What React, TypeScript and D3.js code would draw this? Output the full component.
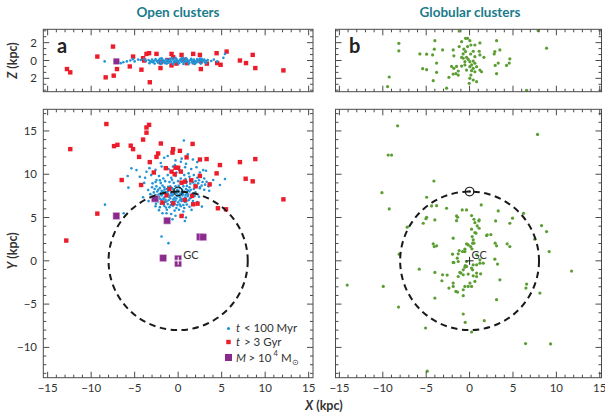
import React from 'react';
import * as d3 from 'd3';

// ---- data (kpc) ----
const youngXY: [number, number][] = [
  [-1.2, 12.1], [0.4, 11.8], [1.1, 12.3], [-0.3, 11.6], [2.2, 11.4], [-2.0, 11.3], [0.9, 11.2], [-1.6, 11.9], [0.66, 13.9], [-0.38, 11.06], [0.31, 11.44], [1.7, 11.7],
  [-3.3, 10.7], [-2.6, 10.5], [-1.9, 10.9], [-1.1, 10.6], [-0.6, 10.9], [0.1, 10.5], [0.8, 10.8], [1.5, 10.6], [2.11, 10.8], [2.88, 10.48], [-4.79, 10.48], [-5.37, 10.68], [-3.64, 10.29], [2.5, 10.2], [3.2, 10.4], [-0.2, 10.2], [1.2, 10.1],
  [-5.8, 9.8], [-4.41, 9.71], [-3.8, 9.6], [-3.1, 9.9], [-2.49, 9.33], [-2.2, 9.8], [-1.7, 9.5], [-1.2, 9.9], [-0.8, 9.6], [-0.3, 9.8], [0.3, 9.5], [0.7, 9.9], [1.3, 9.7], [1.8, 9.9], [2.2, 9.6], [2.6, 9.8], [3.0, 9.5], [3.27, 9.14], [4.03, 9.33], [5.38, 9.45], [1.6, 9.4], [2.0, 9.2], [2.4, 9.3], [2.8, 9.1],
  [-3.9, 9.0], [-2.95, 8.95], [-2.6, 9.1], [-2.0, 9.0], [-1.5, 9.2], [-1.0, 9.1], [-0.5, 9.0], [0.0, 9.2], [0.5, 9.0], [1.0, 9.1], [1.4, 8.9], [1.9, 8.8], [2.3, 8.95], [2.7, 8.7], [3.1, 8.8], [3.5, 8.6], [4.8, 8.76], [1.7, 9.05], [2.1, 8.6], [2.5, 8.5], [-1.8, 8.7], [-0.9, 8.6],
  [-5.72, 8.45], [-3.45, 8.18], [-3.0, 8.5], [-2.5, 8.6], [-2.1, 8.4], [-1.6, 8.5], [-1.3, 8.3], [-0.7, 8.4], [-0.3, 8.6], [0.2, 8.4], [0.6, 8.6], [0.9, 8.3], [1.3, 8.5], [1.8, 8.3], [2.5, 8.37], [3.0, 8.2], [3.57, 8.1], [-2.3, 8.2], [-0.1, 8.2], [1.1, 8.15],
  [-2.8, 7.9], [-2.4, 8.0], [-2.0, 7.8], [-1.7, 8.0], [-1.4, 7.9], [-1.1, 8.1], [-0.8, 7.8], [-0.5, 8.0], [-0.2, 7.8], [0.1, 8.0], [0.4, 7.9], [0.7, 8.0], [1.0, 7.8], [1.3, 8.0], [1.6, 7.7], [2.0, 7.9], [-1.9, 8.1], [-1.2, 7.7], [-0.6, 7.65], [0.25, 7.7], [0.85, 7.6], [-3.2, 7.7],
  [-4.03, 7.34], [-3.0, 7.5], [-2.6, 7.6], [-2.2, 7.4], [-1.9, 7.55], [-1.6, 7.3], [-1.3, 7.5], [-1.0, 7.35], [-0.7, 7.55], [-0.4, 7.3], [-0.1, 7.5], [0.2, 7.35], [0.5, 7.55], [0.8, 7.3], [1.1, 7.45], [1.5, 7.3], [1.9, 7.5], [2.4, 7.4], [-2.4, 7.2], [-0.55, 7.1], [0.35, 7.15], [-1.45, 7.05],
  [-3.4, 6.9], [-2.8, 7.0], [-2.3, 6.85], [-1.9, 7.0], [-1.5, 6.8], [-1.1, 7.0], [-0.8, 6.8], [-0.3, 6.95], [0.0, 6.75], [0.4, 6.9], [0.8, 6.8], [1.2, 7.0], [1.7, 6.9], [2.2, 6.8], [-2.0, 6.6], [-1.2, 6.55], [-0.5, 6.6], [0.2, 6.5], [1.0, 6.5],
  [-8.41, 6.49], [-2.6, 6.3], [-2.1, 6.2], [-1.6, 6.35], [-1.0, 6.2], [-0.6, 6.35], [-0.2, 6.1], [0.3, 6.3], [0.7, 6.1], [1.3, 6.25], [2.73, 6.26], [1.54, 5.88], [-1.3, 5.9], [-0.4, 5.8], [0.1, 5.9], [-2.2, 5.85], [0.6, 5.7],
  [-6.26, 5.49], [-1.34, 5.49], [0.5, 5.3], [-0.8, 5.4], [-1.8, 5.5], [0.9, 5.0], [-0.3, 5.2], [0.77, 4.6], [-0.65, 4.8], [-1.91, 2.8], [-1.11, 2.04],
  // denser core
  [-2.25, 7.65], [-1.75, 7.75], [-1.25, 7.95], [-0.95, 7.55], [-0.35, 7.95], [0.05, 7.6], [0.55, 7.75], [1.15, 7.65], [-2.05, 7.15], [-1.7, 7.15], [-0.9, 7.2], [-0.2, 7.2],
  [0.6, 7.1], [1.35, 7.2], [-2.55, 6.6], [-1.65, 6.6], [-0.85, 6.45], [-0.1, 6.45], [0.6, 6.45], [-1.4, 6.15], [-0.4, 6.55], [0.95, 6.9], [-2.7, 8.3], [-1.55, 8.25],
  [-0.55, 8.25], [0.45, 8.2], [1.45, 8.2], [-1.15, 8.55], [0.05, 8.65], [1.0, 8.65], [-2.1, 9.3], [-0.7, 9.35], [0.85, 9.45], [-1.35, 6.85], [-0.6, 6.85], [0.2, 7.0],
];

const oldXY: [number, number][] = [
  [-8.25, 15.8], [-3.64, 15.4], [-3.34, 15.7], [-3.64, 14.8], [-12.4, 12.9], [-7.37, 13.25], [-6.98, 13.4], [-5.45, 13.3], [-5.18, 12.9], [-4.03, 14.0],
  [-1.99, 13.55], [-0.58, 12.9], [0.2, 12.7], [1.66, 13.5], [-0.65, 12.5], [-2.3, 12.4], [-2.49, 12.0], [-4.49, 12.0], [-3.26, 11.4], [0.97, 11.95],
  [2.5, 11.7], [3.27, 11.75], [4.8, 11.06], [7.1, 11.4], [8.87, 11.75], [-1.42, 10.7], [-0.3, 10.75], [0.0, 10.75], [-0.76, 10.3], [0.31, 10.3],
  [-2.8, 10.2], [4.42, 10.1], [-6.49, 9.33], [-4.26, 8.76], [2.5, 9.8], [7.76, 9.48], [8.57, 9.18], [12.1, 7.1], [0.77, 9.14], [0.39, 9.02],
  [3.62, 8.83], [-9.29, 5.45], [-12.86, 2.34], [1.73, 6.53], [2.23, 6.6], [4.57, 6.07], [5.5, 5.95], [0.39, 5.18], [-1.8, 6.72], [-0.57, 6.64],
  [0.77, 7.03], [-1.34, 7.56], [-2.49, 7.22], [1.5, 9.3], [-1.0, 8.3], [2.0, 8.6], [1.6, 7.5], [-0.4, 10.0],
];

const massiveXY: [number, number][] = [
  [-7.1, 5.18], [-2.68, 7.18], [-1.26, 4.64], [2.5, 2.77], [2.88, 2.73], [-1.72, 0.31], [0, 0.25], [0, -0.3],
];

const youngXZ: [number, number][] = [
  [-8.45, -0.1], [-6.9, -0.15], [-6.6, -0.3], [-6.3, -0.2], [-5.9, -0.1], [-5.5, 0.0], [-5.0, -0.1], [-4.6, 0.1], [-4.3, 0.05], [-3.9, 0.15], [-3.7, -0.05], [-5.2, 0.15],
  [3.8, -0.05], [4.1, 0.1], [4.5, -0.1], [5.2, 0.3], [5.38, 0.74],
  [-3.4, 0.05], [-3.2, -0.1], [-3.0, 0.1], [-2.8, -0.05], [-2.6, 0.15], [-2.4, -0.1], [-2.2, 0.05], [-2.0, -0.15], [-1.8, 0.1], [-1.6, -0.05], [-1.4, 0.15], [-1.2, -0.1],
  [-1.0, 0.05], [-0.8, -0.15], [-0.6, 0.1], [-0.4, -0.05], [-0.2, 0.15], [0.0, -0.1], [0.2, 0.05], [0.4, -0.15], [0.6, 0.1], [0.8, -0.05], [1.0, 0.15], [1.2, -0.1],
  [1.4, 0.05], [1.6, -0.15], [1.8, 0.1], [2.0, -0.05], [2.2, 0.15], [2.4, -0.1], [2.6, 0.05], [2.8, -0.1], [3.0, 0.1], [3.2, -0.05], [3.4, 0.05],
  [-2.9, -0.2], [-2.5, 0.0], [-2.1, 0.2], [-1.7, -0.2], [-1.3, 0.0], [-0.9, 0.2], [-0.5, -0.2], [-0.1, 0.0], [0.3, 0.2], [0.7, -0.2], [1.1, 0.0], [1.5, 0.2],
  [1.9, -0.2], [2.3, 0.0], [2.7, 0.2], [3.1, -0.2], [-2.3, -0.25], [-1.5, -0.3], [-0.7, 0.25], [0.1, -0.3], [0.9, 0.25], [1.7, -0.28], [2.5, 0.22],
  [-1.9, 0.25], [-1.1, -0.25], [0.5, 0.3], [1.3, -0.25], [2.1, -0.22], [-0.3, 0.3],
  [-3.3, -0.3], [-2.7, -0.35], [-2.0, -0.4], [-1.3, -0.35], [-0.6, -0.4], [0.0, -0.35], [0.6, -0.4], [1.2, -0.38], [1.9, -0.4], [2.6, -0.35], [3.2, -0.3],
  [-3.0, -0.15], [-2.3, -0.1], [-1.6, -0.15], [-0.9, -0.05], [-0.3, -0.15], [0.3, -0.05], [0.9, -0.12], [1.6, 0.0], [2.2, -0.12], [2.9, 0.0],
];

const oldXZ: [number, number][] = [
  [-12.78, -0.96], [-12.4, -1.33], [-9.29, 0.44], [-7.49, 1.56], [-8.33, -1.89], [-7.41, -1.7], [-7.03, -0.96], [-5.56, -0.67], [-5.18, 0.44], [-4.22, -1.03],
  [-4.03, 0.26], [-3.64, 0.74], [-3.34, 0.82], [-3.26, -2.44], [-2.49, 0.74], [-2.03, -0.85], [-0.76, 0.74], [-0.58, 0.37], [0.39, 0.63], [1.73, 0.74],
  [2.5, 0.63], [2.61, -0.96], [4.42, 0.82], [4.49, -0.29], [4.88, -0.48], [5.57, 1.0], [7.1, 0.0], [7.8, -0.29], [8.57, 0.63], [8.87, -0.85],
  [12.1, -1.11], [-0.76, -0.55], [-3.9, 0.0], [-2.0, -0.2], [-0.2, -0.35], [1.0, -0.3], [1.8, -0.2], [2.6, -0.1], [3.3, -0.35], [-1.2, 0.05], [0.6, 0.1],
];

const massiveXZ: [number, number][] = [[-7.1, -0.1]];

const globXY: [number, number][] = [
  [-8.29, 15.59], [7.83, 14.6], [-9.38, 12.21], [-8.99, 12.21], [-4.11, 9.22], [-10.1, 7.87], [-9.26, 5.99], [-4.95, 7.34], [-3.8, 6.37], [-4.38, 6.34],
  [-2.65, 6.07], [-0.85, 5.88], [-0.35, 5.88], [1.34, 6.45], [3.3, 5.76], [6.22, 5.49], [4.95, 4.92], [4.64, 4.34], [3.0, 4.61], [-1.5, 5.18],
  [-1.38, 5.03], [-1.5, 4.64], [0.23, 5.22], [0.5, 4.8], [1.1, 4.72], [0.61, 4.41], [1.07, 4.6], [0.88, 4.03], [0.23, 3.65], [0.73, 3.19],
  [1.1, 3.76], [-4.95, 5.03], [-5.03, 4.87], [-4.0, 4.72], [-5.34, 4.34], [-7.19, 3.88], [8.29, 4.07], [8.87, 3.38], [9.17, 1.07], [7.52, 2.5],
  [1.96, 2.92], [2.45, 3.03], [-1.89, 2.61], [0.61, 3.26], [0.3, 2.8], [0.42, 2.42], [0.5, 2.04], [-0.35, 1.96], [0.12, 1.65], [-0.54, 1.35],
  [0.27, 1.38], [-1.2, 1.19], [-0.81, 1.07], [-1.96, 0.77], [-1.31, 0.81], [-4.19, 1.96], [-3.8, 1.73], [-4.07, 1.65], [2.95, 2.04], [3.11, 1.73],
  [4.33, 1.96], [4.64, 1.65], [-8.11, 0.77], [-5.8, -0.96], [-1.89, -0.19], [-1.31, -0.08], [1.19, -0.27], [1.57, -0.27], [2.91, 0.19], [3.22, -0.38],
  [-0.35, -0.65], [-0.5, -0.54], [0.81, 0.69], [1.19, 0.12], [-0.35, -0.08], [-1.81, -0.2], [-1.42, 0.31], [-0.54, 1.07], [0.35, 2.04], [-0.16, 1.84],
  [-4.0, -1.34], [-3.11, -1.61], [-2.58, -1.65], [-3.19, -2.3], [-1.89, -2.57], [-2.38, -3.15], [-1.38, -3.61], [-0.73, -4.03], [-0.54, -2.96], [0.04, -2.57],
  [0.61, -2.38], [1.27, -1.5], [0.81, -1.42], [0.42, -1.73], [-0.16, -1.53], [-0.73, -1.61], [-1.12, -1.34], [-0.73, -1.04], [0.23, -0.84], [0.81, -0.46],
  [-0.54, -0.73], [0.42, -0.46], [0.35, -1.04], [-1.0, -1.42], [-1.31, -1.81], [0.81, -1.81], [-0.16, -2.96], [-0.73, -3.34], [0.23, -2.96], [-1.89, -2.96],
  [-1.58, -3.53], [3.49, -2.19], [3.11, -4.49], [6.57, -2.69], [6.49, -3.15], [8.1, -3.73], [11.75, -1.19], [-14.1, -2.8], [-9.95, -2.96], [-8.19, -5.34],
  [-4.0, -4.3], [-0.73, -6.14], [-0.5, -7.1], [1.69, -6.91], [-5.07, -7.76], [0.23, -8.22], [6.45, -9.56], [9.33, -9.6], [-4.88, -12.75], [2.03, 3.0],
];

const globXZ: [number, number][] = [
  [-8.15, 1.93], [-8.15, 1.08], [-9.26, -1.85], [-9.45, -2.92], [-4.0, 2.22], [-5.73, 0.74], [-4.95, 0.71], [-4.07, 1.27], [-4.26, 0.63], [-3.11, 1.19],
  [-5.41, -0.92], [-4.95, -1.03], [-3.8, -0.29], [-3.8, -1.33], [-4.19, -2.26], [-2.65, -3.11], [-2.38, -1.89], [-2.07, -0.67], [-1.89, 1.19], [-1.81, 0.52],
  [-1.5, -0.67], [-1.31, -1.18], [-1.58, -1.48], [-1.2, 3.3], [-0.92, 2.11], [-0.46, 2.49], [-0.23, 2.49], [0.03, 2.22], [-1.2, 1.56], [-0.66, 1.27],
  [-0.46, 1.0], [-0.74, 0.74], [-0.23, 1.56], [0.15, 1.74], [0.61, 1.74], [1.19, 1.97], [1.11, 1.04], [0.42, 1.04],
  [-0.35, 0.36], [-0.74, 0.25], [-0.16, 0.13], [-0.54, -0.13], [0.03, -0.13], [0.42, -0.06], [0.23, -0.5], [0.61, -0.31], [0.81, -0.69], [0.42, -0.88],
  [0.03, -0.69], [-0.54, -0.5], [-0.92, -0.62], [-0.35, -1.07], [0.23, -1.14], [0.61, -1.26], [1.19, -1.07], [1.38, -1.26], [0.15, -1.63], [0.03, -2.0],
  [-0.04, -2.56], [0.42, -2.19], [0.81, -2.38], [-1.31, -1.63], [-1.89, -1.52], [-1.81, -0.88], [-0.92, 0.36], [0.12, 0.73], [0.61, 0.43], [1.19, 0.62],
  [1.65, 0.36], [3.11, 2.22], [2.91, 1.0], [3.49, 1.19], [2.84, 0.74], [3.3, -0.29], [2.95, -0.55], [3.11, -1.48], [4.64, 0.19], [4.57, -0.29],
  [4.26, -0.55], [8.87, 1.38], [7.9, 3.35], [6.57, -3.35],
];

const xTickLabels = ['\u221215', '\u221210', '\u22125', '0', '5', '10', '15'];
const xTickValues = [-15, -10, -5, 0, 5, 10, 15];
const yTickValues = [-10, -5, 0, 5, 10, 15];
const yTickLabels = ['\u221210', '\u22125', '0', '5', '10', '15'];
const zTickValues = [2, 0, -2];
const zTickLabels = ['2', '0', '2'];

const SUN_R = 8;
const FONT = 'Lato, "Open Sans", sans-serif';
const BLUE = '#1f94d8';
const RED = '#ec1c2b';
const PURPLE = '#8a2a8c';
const GREEN = '#5c9e34';
const TEAL = '#1a7b8b';
const AXIS = '#4a4a4a';

// ---- scales ----
const xA = d3.scaleLinear().domain([-15.5, 15.5]).range([43.3, 313]);
const xB = d3.scaleLinear().domain([-15.45, 15.2]).range([335.5, 601.5]);
const yMain = d3.scaleLinear().domain([-13.5, 17.5]).range([377.7, 109.3]);
const zTop = d3.scaleLinear().domain([-3.5, 3.5]).range([91.7, 29.3]);

type Sc = d3.ScaleLinear<number, number>;

function Frame({ x, y, xMajor, xMinor, yMajor, yMinor }: { x: Sc; y: Sc; xMajor: number[]; xMinor: number[]; yMajor: number[]; yMinor: number[] }) {
  const [x0, x1] = x.range();
  const [y0, y1] = y.range(); // y0 bottom, y1 top
  const lines: JSX.Element[] = [];
  const push = (k: string, a: number, b: number, c: number, d: number) =>
    lines.push(<line key={k} x1={a} y1={b} x2={c} y2={d} />);
  xMinor.forEach((v, i) => {
    const px = x(v);
    push('xb' + i, px, y0, px, y0 - 3);
    push('xt' + i, px, y1, px, y1 + 3);
  });
  xMajor.forEach((v, i) => {
    const px = x(v);
    push('Xb' + i, px, y0, px, y0 - 6);
    push('Xt' + i, px, y1, px, y1 + 6);
  });
  yMinor.forEach((v, i) => {
    const py = y(v);
    push('yl' + i, x0, py, x0 + 3, py);
    push('yr' + i, x1, py, x1 - 3, py);
  });
  yMajor.forEach((v, i) => {
    const py = y(v);
    push('Yl' + i, x0, py, x0 + 6, py);
    push('Yr' + i, x1, py, x1 - 6, py);
  });
  return (
    <g stroke={AXIS} strokeWidth={1} fill="none">
      <rect x={x0} y={y1} width={x1 - x0} height={y0 - y1} />
      {lines}
    </g>
  );
}

const kpcMinor = d3.range(-15, 16).filter((v) => v % 5 !== 0);
const yMinorVals = d3.range(-13, 18).filter((v) => v % 5 !== 0);
const zMinorVals = d3.range(-5, 6)
  .filter((k) => k % 3 !== 0)
  .map((k) => (k * 2) / 3);

function SunAndGC({ x, y, gcColor, gcDx }: { x: Sc; y: Sc; gcColor: string; gcDx: number }) {
  const rx = x(SUN_R) - x(0);
  const ry = y(0) - y(SUN_R);
  const cx = x(0);
  const cy = y(0);
  const sy = y(SUN_R);
  return (
    <g>
      <ellipse cx={cx} cy={cy} rx={rx} ry={ry} fill="none" stroke="#1a1a1a" strokeWidth={2} strokeDasharray="6.5 4.5" />
      <circle cx={cx} cy={sy} r={4.3} fill="none" stroke="#1a1a1a" strokeWidth={1.2} />
      <circle cx={cx} cy={sy} r={1.3} fill="#1a1a1a" />
      <g stroke={gcColor} strokeWidth={1}>
        <line x1={cx - 4} y1={cy} x2={cx + 4} y2={cy} />
        <line x1={cx} y1={cy - 4} x2={cx} y2={cy + 4} />
      </g>
      <text x={cx + gcDx} y={cy - 2} fontSize={11} fill="#333" fontFamily={FONT}>GC</text>
    </g>
  );
}

export default function App() {
  return (
    <svg width={605} height={415} style={{ position: 'absolute', left: 0, top: 0, background: '#fff' }} fontFamily={FONT}>
      {/* titles */}
      <text x={178} y={17} textAnchor="middle" fontSize={13.5} fontWeight="bold" fill={TEAL}>Open clusters</text>
      <text x={470} y={17} textAnchor="middle" fontSize={13.5} fontWeight="bold" fill={TEAL}>Globular clusters</text>

      {/* panel a top */}
      <g>
        {oldXZ.map(([x, z], i) => (
          <rect key={'oz' + i} x={xA(x) - 2.2} y={zTop(z) - 2.2} width={4.4} height={4.4} fill={RED} />
        ))}
        {youngXZ.map(([x, z], i) => (
          <circle key={'yz' + i} cx={xA(x)} cy={zTop(z)} r={1.3} fill={BLUE} />
        ))}
        {massiveXZ.map(([x, z], i) => (
          <rect key={'mz' + i} x={xA(x) - 3} y={zTop(z) - 3} width={6} height={6} fill={PURPLE} />
        ))}
        <Frame x={xA} y={zTop} xMajor={xTickValues} xMinor={kpcMinor} yMajor={zTickValues} yMinor={zMinorVals} />
        <text x={57} y={53} fontSize={20} fontWeight="bold" fill="#222">a</text>
      </g>

      {/* panel b top */}
      <g>
        {globXZ.map(([x, z], i) => (
          <circle key={'gz' + i} cx={xB(x)} cy={zTop(z)} r={1.6} fill={GREEN} />
        ))}
        <Frame x={xB} y={zTop} xMajor={xTickValues} xMinor={kpcMinor} yMajor={zTickValues} yMinor={zMinorVals} />
        <text x={349} y={53} fontSize={20} fontWeight="bold" fill="#222">b</text>
      </g>

      {/* Z axis labels */}
      {zTickValues.map((v, i) => (
        <text key={'zl' + i} x={37} y={zTop(v) + 4} textAnchor="end" fontSize={11.5} fill="#333">{zTickLabels[i]}</text>
      ))}
      <text transform={`translate(17,${zTop(0)}) rotate(-90)`} textAnchor="middle" fontSize={12.5} fontWeight="bold" fill="#333">
        <tspan fontStyle="italic">Z</tspan> (kpc)
      </text>

      {/* panel a main */}
      <g>
        {youngXY.map(([x, y], i) => (
          <circle key={'y' + i} cx={xA(x)} cy={yMain(y)} r={1.3} fill={BLUE} />
        ))}
        {oldXY.map(([x, y], i) => (
          <rect key={'o' + i} x={xA(x) - 2.2} y={yMain(y) - 2.2} width={4.4} height={4.4} fill={RED} />
        ))}
        {massiveXY.map(([x, y], i) => (
          <rect key={'m' + i} x={xA(x) - 3.4} y={yMain(y) - 3.4} width={6.8} height={6.8} fill={PURPLE} stroke="#d6a8d6" strokeWidth={0.6} />
        ))}
        <SunAndGC x={xA} y={yMain} gcColor="#fff" gcDx={5} />
        <Frame x={xA} y={yMain} xMajor={xTickValues} xMinor={kpcMinor} yMajor={yTickValues} yMinor={yMinorVals} />

        {/* legend */}
        <circle cx={228.5} cy={328.5} r={1.6} fill={BLUE} />
        <rect x={226.3} y={339.8} width={4.4} height={4.4} fill={RED} />
        <rect x={225} y={354} width={7} height={7} fill={PURPLE} />
        <g fontSize={11.5} fill="#333">
          <text x={236} y={332} fontStyle="italic">t</text>
          <text x={244} y={332}>&lt; 100 Myr</text>
          <text x={236} y={346} fontStyle="italic">t</text>
          <text x={244} y={346}>&gt; 3 Gyr</text>
          <text x={236} y={362} fontStyle="italic">M</text>
          <text x={248.5} y={362}>&gt; 10</text>
          <text x={273.5} y={356} fontSize={7.5}>4</text>
          <text x={281} y={362}>M</text>
          <text x={292} y={365} fontSize={7.5}>{'\u2299'}</text>
        </g>
      </g>

      {/* panel b main */}
      <g>
        {globXY.map(([x, y], i) => (
          <circle key={'g' + i} cx={xB(x)} cy={yMain(y)} r={1.6} fill={GREEN} />
        ))}
        <SunAndGC x={xB} y={yMain} gcColor="#222" gcDx={2} />
        <Frame x={xB} y={yMain} xMajor={xTickValues} xMinor={kpcMinor} yMajor={yTickValues} yMinor={yMinorVals} />
      </g>

      {/* main axes labels */}
      {yTickValues.map((v, i) => (
        <text key={'yl' + i} x={37} y={yMain(v) + 4} textAnchor="end" fontSize={11.5} fill="#333">{yTickLabels[i]}</text>
      ))}
      {xTickValues.map((v, i) => (
        <text key={'xa' + i} x={xA(v)} y={391.5} textAnchor="middle" fontSize={11.5} fill="#333">{xTickLabels[i]}</text>
      ))}
      {xTickValues.map((v, i) => (
        <text key={'xb' + i} x={xB(v)} y={391.5} textAnchor="middle" fontSize={11.5} fill="#333">{xTickLabels[i]}</text>
      ))}
      <text transform={`translate(17,${yMain(0) - 10}) rotate(-90)`} textAnchor="middle" fontSize={12.5} fontWeight="bold" fill="#333">
        <tspan fontStyle="italic">Y</tspan> (kpc)
      </text>
      <text x={324} y={410} textAnchor="middle" fontSize={12.5} fontWeight="bold" fill="#333">
        <tspan fontStyle="italic">X</tspan> (kpc)
      </text>
    </svg>
  );
}
